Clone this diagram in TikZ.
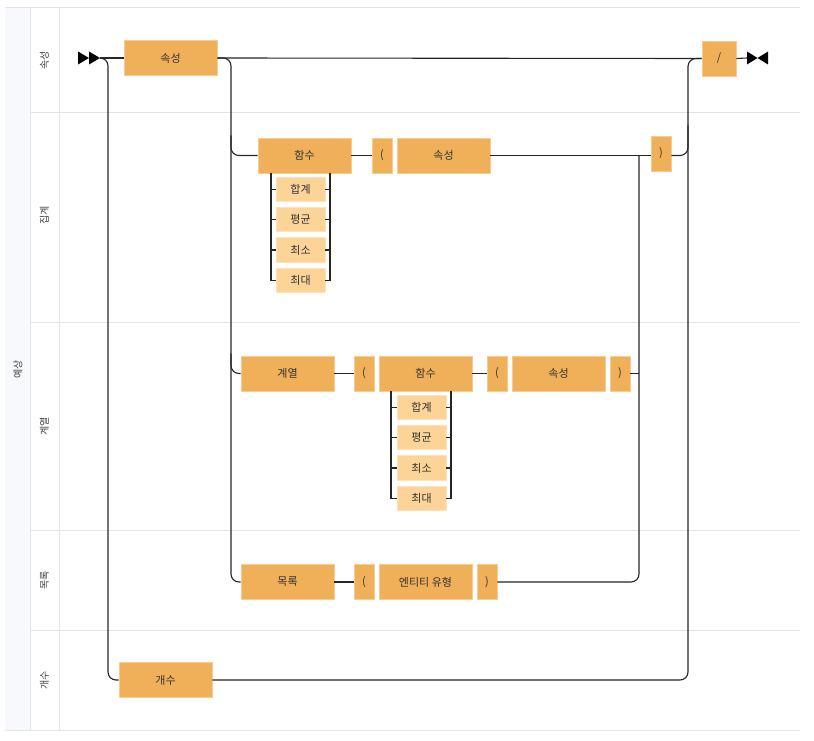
\documentclass[tikz,border=0pt]{standalone}
\usepackage{fontspec}
\setmainfont{Noto Sans CJK KR}
\definecolor{boxc}{HTML}{F0B05A}
\definecolor{boxe}{HTML}{F6CC92}
\definecolor{optc}{HTML}{FDD497}
\definecolor{opte}{HTML}{FEE3BA}
\definecolor{lanec}{HTML}{E4E4E4}
\definecolor{poolc}{HTML}{F8F9FC}
\definecolor{txtc}{HTML}{333333}
\definecolor{lblc}{HTML}{444444}
\definecolor{wirec}{HTML}{262626}
\begin{document}
\begin{tikzpicture}[x=1pt,y=-1pt,
  kw/.style={fill=boxc, draw=boxe, line width=0.6pt, inner sep=0pt, minimum height=35pt, text=txtc, font=\fontsize{11}{13}\selectfont},
  wide/.style={kw, minimum width=93pt},
  pbox/.style={kw, minimum width=20pt},
  optb/.style={fill=optc, draw=opte, line width=0.6pt, inner sep=0pt, minimum width=49pt, minimum height=24.5pt, text=txtc, font=\fontsize{11}{13}\selectfont},
  wire/.style={draw=wirec, line width=1.1pt},
  lanel/.style={rotate=90, text=lblc, font=\fontsize{10}{12}\selectfont},
  laneline/.style={draw=lanec, line width=1pt}]
\useasboundingbox (0,0) rectangle (814,741);
\fill[white] (0,0) rectangle (814,741);
% pool and lanes
\fill[poolc] (5,8) rectangle (30,730.5);
\draw[laneline] (5,8) -- (800,8);
\draw[laneline] (5,730.5) -- (800,730.5);
\draw[laneline] (30,8) -- (30,730.5);
\draw[laneline] (59,8) -- (59,730.5);
\draw[laneline] (30,113) -- (800,113);
\draw[laneline] (30,322) -- (800,322);
\draw[laneline] (30,530) -- (800,530);
\draw[laneline] (30,630) -- (800,630);
\node[lanel] (lpool) at (18,369) {예상};
\node[lanel] (lane1) at (44.5,60.5) {속성};
\node[lanel] (lane2) at (44.5,215) {집계};
\node[lanel] (lane3) at (44.5,426) {계열};
\node[lanel] (lane4) at (44.5,580) {목록};
\node[lanel] (lane5) at (44.5,680) {개수};
% nodes
\node[wide] (s0) at (170.5,58) {속성};
\node[kw, minimum width=34pt] (slash) at (719,58.5) {/};
\node[wide] (fn1) at (304.5,155.5) {함수};
\node[pbox] (lp1) at (382,155.5) {(};
\node[wide] (at1) at (443.5,155.5) {속성};
\node[pbox] (rp1) at (661,153.5) {)};
\node[optb] (a1) at (300.5,189.5) {합계};
\node[optb] (a2) at (300.5,219.5) {평균};
\node[optb] (a3) at (300.5,250) {최소};
\node[optb] (a4) at (300.5,280.5) {최대};
\node[wide] (ser) at (287.5,373.5) {계열};
\node[pbox] (lp2) at (364,373.5) {(};
\node[wide] (fn2) at (425.5,373.5) {함수};
\node[pbox] (lp3) at (497,373.5) {(};
\node[wide] (at2) at (558.5,373.5) {속성};
\node[pbox] (rp2) at (620,373.5) {)};
\node[optb] (b1) at (421.5,407.5) {합계};
\node[optb] (b2) at (421.5,437.5) {평균};
\node[optb] (b3) at (421.5,468) {최소};
\node[optb] (b4) at (421.5,498.5) {최대};
\node[wide] (lst) at (287.5,582) {목록};
\node[pbox] (lp4) at (364,582) {(};
\node[wide] (ent) at (425.5,582) {엔티티 유형};
\node[pbox] (rp4) at (487,582) {)};
\node[wide] (cnt) at (165.5,680) {개수};
% rail coordinates
\coordinate (start) at (100,58);
\coordinate (fin) at (747,58);
\coordinate (Lr) at (108,0);
\coordinate (Br) at (231,0);
\coordinate (Ir) at (639,0);
\coordinate (Or) at (688,0);
\coordinate (al) at (271,0);
\coordinate (ar) at (330,0);
\coordinate (bl) at (391,0);
\coordinate (br) at (451,0);
% start / end symbols
\fill[black] (78,51.5) -- (89,58) -- (78,64.5) -- cycle;
\fill[black] (89,51.5) -- (100,58) -- (89,64.5) -- cycle;
\fill[black] (747,51.5) -- (757.5,58) -- (747,64.5) -- cycle;
\fill[black] (768,51.5) -- (757.5,58) -- (768,64.5) -- cycle;
% wires
\draw[wire] (start) -- (s0.west);
\draw[wire, rounded corners=8pt] (start) -| (Lr |- cnt.west) -- (cnt.west);
\draw[wire] (s0.east) -- (slash.west);
\draw[wire, rounded corners=8pt] (s0.east) -| (Br |- lst.west) -- (lst.west);
\draw[wire, rounded corners=8pt] ([yshift=20pt]Br |- fn1.west) |- (fn1.west);
\draw[wire, rounded corners=8pt] ([yshift=20pt]Br |- ser.west) |- (ser.west);
\draw[wire] (fn1.east) -- (lp1.west);
\draw[wire] (at1.east) -- (at1.east -| rp1.west);
\draw[wire, rounded corners=8pt] (rp1.east |- at1.east) -| ([yshift=30pt]Or |- at1.east);
\draw[wire, rounded corners=8pt] (cnt.east) -| (Or |- slash.west) -- (slash.west);
\draw[wire] (slash.east) -- (fin);
\draw[wire, rounded corners=8pt] (rp4.east) -| (Ir |- at1.east);
\draw[wire] (rp2.east) -- (Ir |- rp2.east);
\draw[wire] (ser.east) -- (lp2.west);
\draw[wire] (fn2.east) -- (lp3.west);
\draw[wire] (lst.east) -- (lp4.west);
% option brackets
\draw[wire] (fn1.south -| al) |- (a4.west);
\draw[wire] (fn1.south -| ar) |- (a4.east);
\foreach \n in {a1,a2,a3} {
  \draw[wire] (al |- \n.west) -- (\n.west);
  \draw[wire] (ar |- \n.east) -- (\n.east);
}
\draw[wire] (fn2.south -| bl) |- (b4.west);
\draw[wire] (fn2.south -| br) |- (b4.east);
\foreach \n in {b1,b2,b3} {
  \draw[wire] (bl |- \n.west) -- (\n.west);
  \draw[wire] (br |- \n.east) -- (\n.east);
}
\end{tikzpicture}
\end{document}
